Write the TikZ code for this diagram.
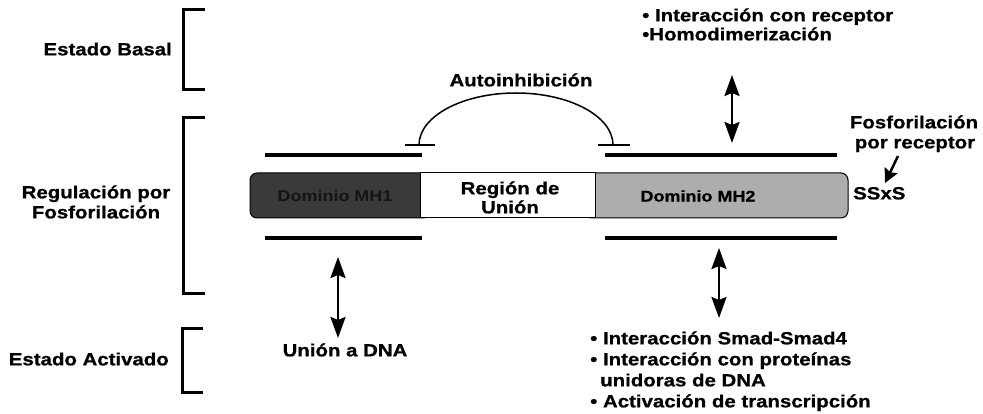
\documentclass[tikz,border=0pt]{standalone}
\usepackage{fontspec}
\setmainfont{Liberation Sans}[FakeStretch=1.16, BoldFeatures={FakeBold=0.8}]
\newfontfamily\plainsans{Liberation Sans}[FakeStretch=1.16]
\usetikzlibrary{arrows.meta}
\definecolor{mhdark}{RGB}{58,58,58}
\definecolor{mhtext}{RGB}{20,20,20}
\begin{document}
\begin{tikzpicture}[x=1pt,y=-1pt,
  txt/.style={font=\bfseries\fontsize{17.6}{20}\selectfont, inner sep=0pt, text height=12.7pt, text depth=0pt},
  domtxt/.style={font=\bfseries\fontsize{15.5}{18}\selectfont, inner sep=0pt, text height=11.1pt, text depth=0pt},
  darktxt/.style={font=\plainsans\bfseries\fontsize{15.5}{18}\selectfont, inner sep=0pt, text height=11.1pt, text depth=0pt},
  brk/.style={line width=3pt, line join=miter},
  band/.style={line width=3.5pt},
  thin/.style={line width=1.5pt},
  dbl/.style={line width=2.5pt, {Stealth[length=21pt,width=15pt,inset=3pt]}-{Stealth[length=21pt,width=15pt,inset=3pt]}},
  sgl/.style={line width=2.5pt, -{Stealth[length=14pt,width=14pt,inset=2pt]}},
  ]
\useasboundingbox (0,0) rectangle (983,414);

% brackets
\draw[brk] (205,10) -- (183,10) -- (183,90) -- (205,90);
\draw[brk] (205,118) -- (183,118) -- (183,293) -- (205,293);
\draw[brk] (203,328) -- (182,328) -- (182,392) -- (203,392);

% left labels
\node[txt, anchor=east] (basal) at (172,49) {Estado Basal};
\node[txt] (reg1) at (96,192) {Regulación por};
\node[txt] (reg2) at (96,212) {Fosforilación};
\node[txt, anchor=east] (activ) at (169,359) {Estado Activado};

% protein bar
\draw[fill=black!32, line width=1pt, rounded corners=7] (585,173) rectangle (848,218);
\draw[fill=mhdark, line width=1pt, rounded corners=7] (250,173) rectangle (430,218);
\draw[fill=white, line width=1pt] (420,173) rectangle (595,218);
\node[darktxt] (mh1) at (335,196) {\color{mhtext}Dominio MH1};
\node[txt] (reg3) at (510,188) {Región de};
\node[txt] (reg4) at (510,207) {Unión};
\node[domtxt, text=black] (mh2) at (698,196) {Dominio MH2};
\node[txt, anchor=west] (ssxs) at (853,193) {SSxS};

% bands above and below
\draw[band] (265,155) -- (422,155);
\draw[band] (605,155) -- (837,155);
\draw[band] (265,238) -- (422,238);
\draw[band] (605,238) -- (837,238);

% autoinhibition
\node[txt] (auto) at (521,80) {Autoinhibición};
\coordinate (arcL) at (419,145);
\draw[thin] (arcL) arc[start angle=180, end angle=360, x radius=97, y radius=52];
\draw[thin] (405,145) -- (435,145);
\draw[thin] (598,145) -- (630,145);

% upper right
\node[txt, anchor=west] (up1) at (642,15) {• Interacción con receptor};
\node[txt, anchor=west] (up2) at (642,34) {•Homodimerización};
\coordinate (ua) at (732,75);
\coordinate (ub) at (732,143);
\draw[dbl] (ua) -- (ub);

% phosphorylation
\node[txt] (fos1) at (914,122) {Fosforilación};
\node[txt] (fos2) at (915,142) {por receptor};
\coordinate (fa) at (898,156);
\coordinate (fb) at (885,183);
\draw[sgl] (fa) -- (fb);

% DNA binding
\coordinate (da) at (338,257);
\coordinate (db) at (338,338);
\draw[dbl] (da) -- (db);
\node[txt] (dna) at (345,350) {Unión a DNA};

% lower right
\coordinate (la) at (719,248);
\coordinate (lb) at (719,318);
\draw[dbl] (la) -- (lb);
\node[txt, anchor=west] (lo1) at (590,338) {• Interacción Smad-Smad4};
\node[txt, anchor=west] (lo2) at (590,359) {• Interacción con proteínas};
\node[txt, anchor=west] (lo3) at (600,380) {unidoras de DNA};
\node[txt, anchor=west] (lo4) at (590,401) {• Activación de transcripción};
\end{tikzpicture}
\end{document}
